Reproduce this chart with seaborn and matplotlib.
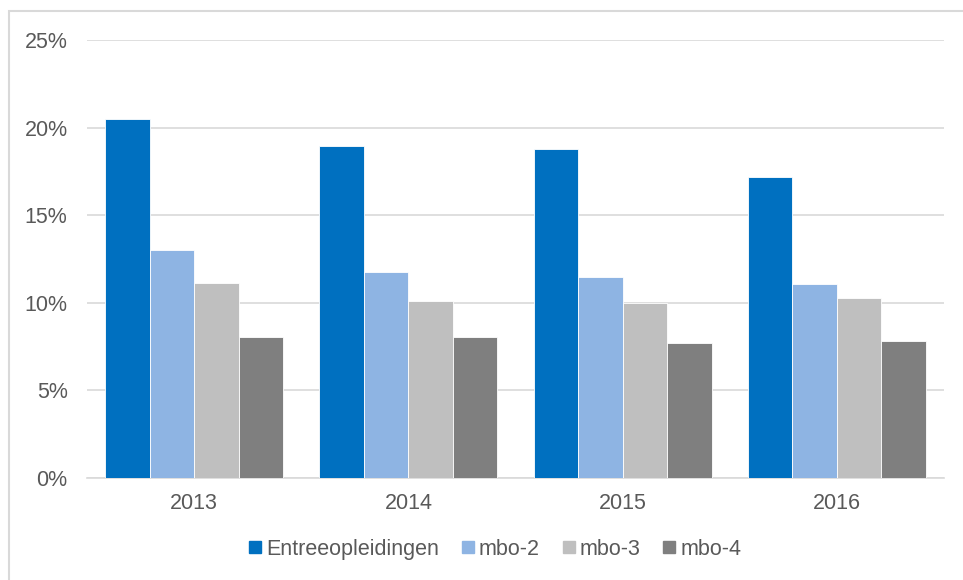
import pandas as pd
import matplotlib
matplotlib.use("Agg")
import matplotlib.pyplot as plt
import seaborn as sns
from matplotlib.lines import Line2D
from matplotlib.patches import Rectangle
from matplotlib.ticker import FuncFormatter

years = ["2013", "2014", "2015", "2016"]
levels = ["Entreeopleidingen", "mbo-2", "mbo-3", "mbo-4"]
entree = [20.5, 18.95, 18.8, 17.2]
mbo2 = [13.0, 11.75, 11.5, 11.1]
mbo3 = [11.15, 10.1, 10.0, 10.3]
mbo4 = [8.05, 8.05, 7.7, 7.8]
colors = ["#0070c0", "#8eb4e3", "#bfbfbf", "#7f7f7f"]

df = pd.DataFrame({
    "year": years * 4,
    "level": [lv for lv in levels for _ in years],
    "pct": entree + mbo2 + mbo3 + mbo4,
})

sns.set_style("white")
plt.rcParams["font.family"] = ["Liberation Sans", "DejaVu Sans"]
text_col = "#595959"
grid_col = "#d9d9d9"

fig = plt.figure(figsize=(9.63, 5.8), dpi=100)
ax = fig.add_axes([87 / 963, 1 - 478 / 580, (944 - 87) / 963, (478 - 40) / 580])

sns.barplot(data=df, x="year", y="pct", hue="level", hue_order=levels,
            palette=colors, width=0.83, saturation=1, ax=ax,
            edgecolor="white", linewidth=0.6, legend=False, zorder=3)

ax.set_ylim(0, 25)
ax.set_yticks([0, 5, 10, 15, 20, 25])
ax.yaxis.set_major_formatter(FuncFormatter(lambda v, p: f"{v:.0f}%"))
ax.set_xlim(-0.5, 3.5)
ax.grid(True, axis="y", color=grid_col, linewidth=1.2, zorder=0)
ax.set_axisbelow(True)
ax.set_xlabel("")
ax.set_ylabel("")
for s in ["top", "right", "left"]:
    ax.spines[s].set_visible(False)
ax.spines["bottom"].set_color(grid_col)
ax.spines["bottom"].set_linewidth(1.2)
ax.tick_params(axis="both", length=0, labelsize=15.5, labelcolor=text_col)
ax.tick_params(axis="y", pad=14)
ax.tick_params(axis="x", pad=11)

handles = [Line2D([], [], marker="s", linestyle="", markersize=8,
                  markerfacecolor=c, markeredgecolor=c) for c in colors]
leg = fig.legend(handles, levels, loc="center", bbox_to_anchor=(0.514, 0.053),
                 ncol=4, frameon=False, fontsize=15.5, handlelength=0.6,
                 handletextpad=0.2, columnspacing=1.05)
for t in leg.get_texts():
    t.set_color(text_col)

# outer chart frame (left and top edges visible in the crop)
fig.patches.append(Rectangle((8.5 / 963, -0.1), 1.2, 1 - 10.5 / 580 + 0.1,
                             transform=fig.transFigure, fill=False,
                             edgecolor=grid_col, linewidth=1.5))

fig.savefig("out.png", dpi=100)
